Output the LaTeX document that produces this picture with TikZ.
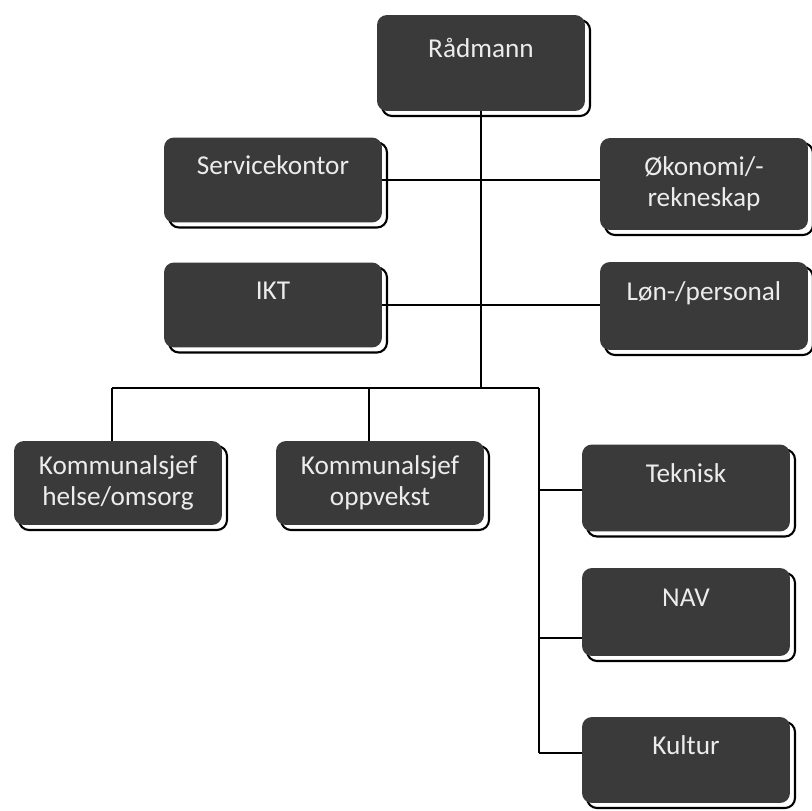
\documentclass[tikz,border=0pt]{standalone}
\usepackage{fontspec}
\setmainfont{Carlito}
\usetikzlibrary{positioning,calc,shadows}
\definecolor{boxgrey}{RGB}{58,58,58}
\definecolor{textgrey}{RGB}{236,236,236}

\begin{document}
\begin{tikzpicture}[x=0.02cm, y=-0.02cm,
    unit/.style={rectangle, rounded corners=0.2cm, fill=boxgrey, text=textgrey,
        minimum width=4.16cm, minimum height=1.76cm, align=center, inner sep=1pt,
        font=\fontsize{15.5}{17.5}\selectfont,
        drop shadow={shadow xshift=0.1cm, shadow yshift=-0.1cm, fill=white, draw=black, line width=1.2pt, opacity=1}},
    oneline/.style={text height=11pt, text depth=17pt},
    link/.style={draw=black, line width=1.1pt}]

    \useasboundingbox (0,0) rectangle (812,811);

    % Top
    \node[unit, oneline, minimum height=1.92cm] (rad) at (481,63) {Rådmann};

    % Staff units
    \node[unit, oneline, minimum width=4.36cm, minimum height=1.7cm] (srv) at (273,180) {Servicekontor};
    \node[unit, minimum height=1.84cm] (oko) at (704,184) {Økonomi/-\\rekneskap};
    \node[unit, oneline, minimum width=4.36cm, minimum height=1.7cm] (ikt) at (273,305) {IKT};
    \node[unit, oneline] (lon) at (704,306) {Løn-/personal};

    % Sectors
    \node[unit, minimum height=1.68cm] (hel) at (118,483) {Kommunalsjef\\helse/omsorg};
    \node[unit, minimum height=1.68cm] (opp) at (380,483) {Kommunalsjef\\oppvekst};
    \node[unit, oneline, minimum height=1.74cm] (tek) at (686,488) {Teknisk};
    \node[unit, oneline] (nav) at (686,612) {NAV};
    \node[unit, oneline, minimum height=1.72cm] (kul) at (686,760) {Kultur};

    % Connections
    \coordinate (bus) at (481,388);
    \coordinate (bl) at (112,388);
    \coordinate (bm) at (369,388);
    \coordinate (br) at (539,388);
    \coordinate (be) at (539,753);
    \draw[link] (rad.south) -- (bus);
    \draw[link] (srv.east) -- (srv.east -| oko.west);
    \draw[link] (ikt.east) -- (ikt.east -| lon.west);
    \draw[link] (bl) -- (br);
    \draw[link] (bl) -- (bl |- hel.north);
    \draw[link] (bm) -- (bm |- opp.north);
    \draw[link] (br) -- (be);
    \foreach \u/\y in {tek/490, nav/638, kul/753} {
        \draw[link] (539,\y) -- (\u.west |- 0,\y);
    }
\end{tikzpicture}
\end{document}
